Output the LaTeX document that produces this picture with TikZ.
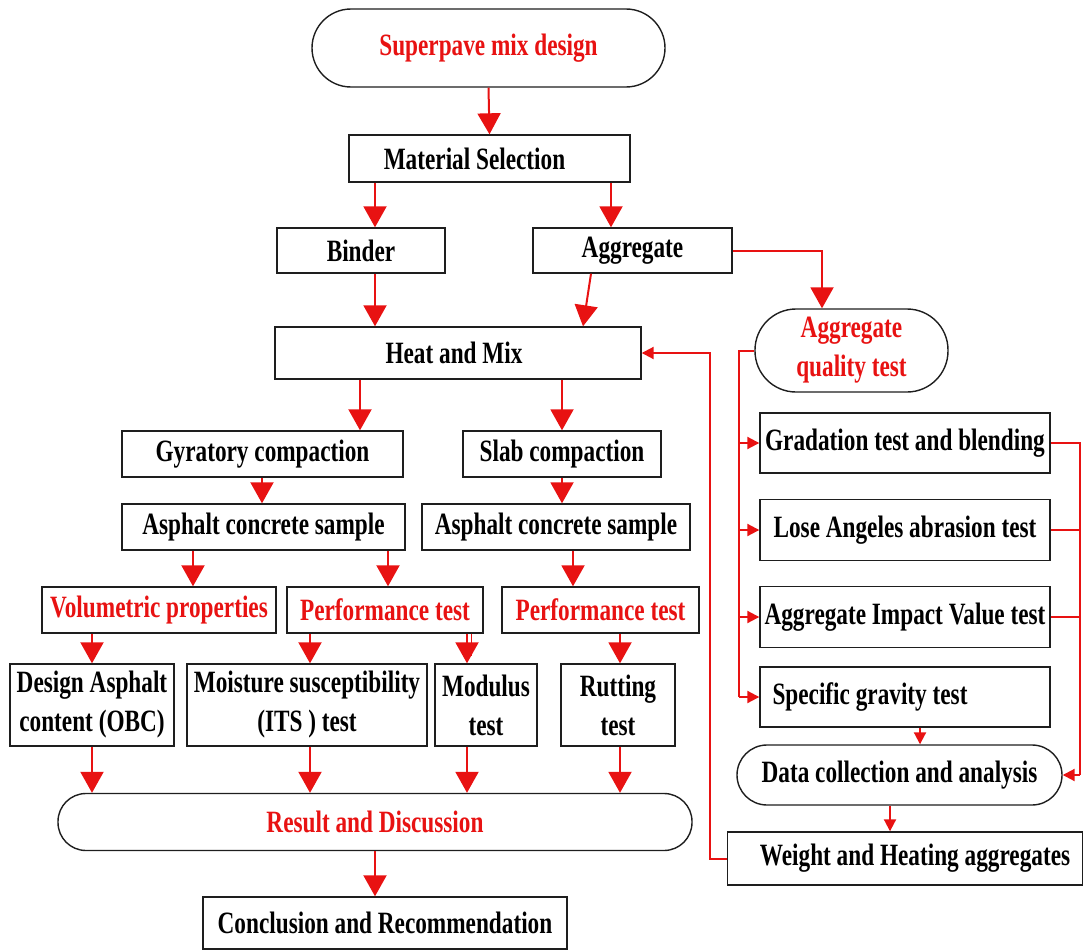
\documentclass[tikz,border=0pt]{standalone}
\usepackage{fontspec}
\setmainfont{Liberation Serif}[FakeStretch=0.75]
\usetikzlibrary{arrows.meta}
\definecolor{rd}{RGB}{232,18,18}
\definecolor{bk}{RGB}{30,30,30}
\tikzset{
  box/.style={draw=bk, line width=1.4pt, fill=white, inner sep=2pt, align=center,
    font=\bfseries\fontsize{31}{39}\selectfont},
  rbox/.style={box, text=rd},
  ln/.style={draw=rd, line width=2pt},
  arr/.style={ln, -{Triangle[width=23pt,length=21pt]}},
  sarr/.style={ln, -{Triangle[width=12pt,length=12pt]}},
}
\begin{document}
\begin{tikzpicture}[x=1pt,y=-1pt]
\useasboundingbox (0,0) rectangle (1084,950);
% column coordinates
\foreach \c in {92,193,262,310,360,375,388,467,471,562,573,583,591,611,620,710,739,822,890,920,1080}
  \coordinate (c\c) at (\c,0);

% nodes
\node[rbox, minimum width=353, minimum height=78, rounded corners=39] (sup) at (488.5,48) {Superpave mix design};
\node[box, minimum width=281, minimum height=47] (ms) at (489.5,158.5) {Material Selection\hspace*{30pt}};
\node[box, minimum width=168, minimum height=45] (bind) at (361,250.5) {Binder};
\node[box, minimum width=199, minimum height=45] (agg) at (632.5,250.5) {Aggregate};
\node[box, minimum width=366, minimum height=52] (heat) at (458,353) {Heat and Mix\hspace*{8pt}};
\node[rbox, minimum width=193, minimum height=83, rounded corners=41] (aqt) at (851.5,350.5) {Aggregate\\quality test};
\node[box, minimum width=281, minimum height=46] (gyr) at (262.5,454) {Gyratory compaction};
\node[box, minimum width=198, minimum height=46] (slab) at (562,454) {Slab compaction};
\node[box, minimum width=283, minimum height=46] (acsl) at (263.5,527) {Asphalt concrete sample};
\node[box, minimum width=268, minimum height=46] (acsr) at (556,527) {Asphalt concrete sample};
\node[rbox, minimum width=234, minimum height=46] (vol) at (159,610) {Volumetric properties};
\node[rbox, minimum width=196, minimum height=46] (pm) at (385,610) {Performance test};
\node[rbox, minimum width=197, minimum height=46] (pr) at (600.5,610) {Performance test};
\node[box, minimum width=164, minimum height=82] (des) at (92,705) {Design Asphalt\\content (OBC)};
\node[box, minimum width=240, minimum height=82] (moi) at (307,705) {Moisture susceptibility\\(ITS ) test};
\node[box, minimum width=102, minimum height=82] (mod) at (486,705) {Modulus\\test};
\node[box, minimum width=114, minimum height=82] (rut) at (618,705) {Rutting\\test};
\node[rbox, minimum width=634, minimum height=57, rounded corners=28] (res) at (375,822) {Result and Discussion};
\node[box, minimum width=364, minimum height=52] (con) at (385,923) {Conclusion and Recommendation};
\node[box, minimum width=290, minimum height=60] (grad) at (905,443) {Gradation test and blending};
\node[box, minimum width=290, minimum height=61] (la) at (905,530) {Lose Angeles abrasion test};
\node[box, minimum width=290, minimum height=61] (aiv) at (905,617) {Aggregate Impact Value test};
\node[box, minimum width=290, minimum height=60] (sg) at (905,697) {Specific gravity test\hspace*{70pt}};
\node[box, minimum width=325, minimum height=60, rounded corners=30] (dca) at (899.5,775) {Data collection and analysis};
\node[box, minimum width=355, minimum height=53] (wh) at (905,858.5) {\hspace*{20pt}Weight and Heating aggregates};

% main flow
\draw[arr] (sup.south) -- (ms.north);
\draw[arr] (ms.south -| c375) -- (bind.north -| c375);
\draw[arr] (ms.south -| c611) -- (agg.north -| c611);
\draw[arr] (agg.east) -| (aqt.north -| c822);
\draw[arr] (bind.south -| c375) -- (heat.north -| c375);
\draw[arr] (agg.south -| c591) -- (heat.north -| c583);
\draw[arr] (heat.south -| c360) -- (gyr.north -| c360);
\draw[arr] (heat.south -| c562) -- (slab.north -| c562);
\draw[arr] (gyr.south -| c262) -- (acsl.north -| c262);
\draw[arr] (slab.south -| c562) -- (acsr.north -| c562);
\draw[arr] (acsl.south -| c193) -- (vol.north -| c193);
\draw[arr] (acsl.south -| c388) -- (pm.north -| c388);
\draw[arr] (acsr.south -| c573) -- (pr.north -| c573);
\draw[arr] (vol.south -| c92) -- (des.north -| c92);
\draw[arr] (pm.south -| c310) -- (moi.north -| c310);
\draw[arr] (pm.south -| c467) -- (mod.north -| c467);
\draw[draw=rd, line width=1pt] (pm.south -| c471) -- ++(0,22);
\draw[arr] (pr.south -| c620) -- (rut.north -| c620);
\draw[arr] (des.south -| c92) -- (res.north -| c92);
\draw[arr] (moi.south -| c310) -- (res.north -| c310);
\draw[arr] (mod.south -| c467) -- (res.north -| c467);
\draw[arr] (rut.south -| c620) -- (res.north -| c620);
\draw[arr] (res.south -| c375) -- (con.north -| c375);

% aggregate quality branch
\draw[ln] (aqt.west) -- (aqt.west -| c739) -- (sg.west -| c739);
\draw[sarr] (grad.west -| c739) -- (grad.west);
\draw[sarr] (la.west -| c739) -- (la.west);
\draw[sarr] (aiv.west -| c739) -- (aiv.west);
\draw[sarr] (sg.west -| c739) -- (sg.west);
\draw[ln] (grad.east) -- (grad.east -| c1080) -- (dca.east -| c1080);
\draw[ln] (la.east) -- (la.east -| c1080);
\draw[ln] (aiv.east) -- (aiv.east -| c1080);
\draw[sarr] (dca.east -| c1080) -- (dca.east);
\draw[sarr] (sg.south -| c920) -- (dca.north -| c920);
\draw[sarr] (dca.south -| c890) -- (wh.north -| c890);
\draw[sarr] (wh.west) -- (wh.west -| c710) -- (heat.east -| c710) -- (heat.east);
\end{tikzpicture}
\end{document}
